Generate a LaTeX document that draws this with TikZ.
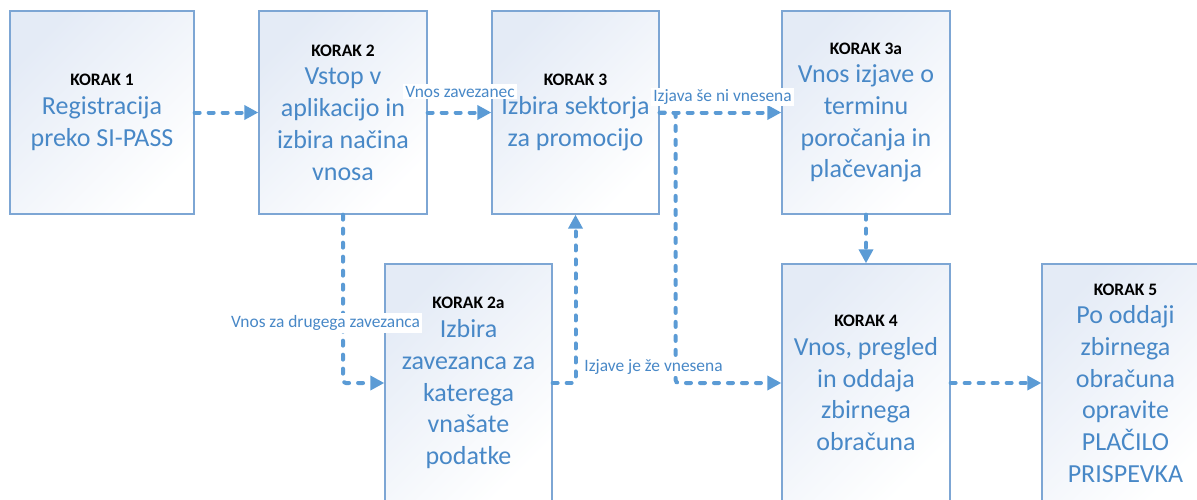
\documentclass[tikz,border=0pt]{standalone}
\usepackage{fontspec}
\setmainfont{Carlito}
\usetikzlibrary{arrows.meta}
\definecolor{textblue}{RGB}{72,136,199}
\definecolor{linkblue}{RGB}{91,155,213}
\definecolor{boxborder}{RGB}{125,166,212}
\definecolor{boxtint}{RGB}{228,235,246}
\newcommand\korakhead[1]{{\color{black}\bfseries\fontsize{17.5}{21}\selectfont #1}}
\begin{document}
\begin{tikzpicture}[x=1pt,y=-1pt,
 stepbox/.style={draw=boxborder, line width=1.3pt, top color=boxtint, bottom color=white, shading angle=45, inner sep=0pt, align=center, text=textblue, font=\fontsize{26}{31.7}\selectfont},
 toprow/.style={minimum height=203pt},
 botrow/.style={minimum height=238pt},
 link/.style={draw=linkblue, line width=4pt, dash pattern=on 5pt off 9pt, line cap=round, rounded corners=3pt, -{Triangle[length=14pt,width=14pt]}},
 lbl/.style={fill=white, text=textblue, font=\fontsize{17.4}{20}\selectfont, inner sep=2pt}]
\useasboundingbox (0,0) rectangle (1197,499);
\clip (0,0) rectangle (1197,499);

\node[stepbox, toprow, minimum width=184pt] (b1) at (102,112.5) {\korakhead{KORAK 1}\\[-3pt]Registracija\\preko SI-PASS};
\node[stepbox, toprow, minimum width=168pt] (b2) at (343,112.5) {\korakhead{KORAK 2}\\[-3pt]Vstop v\\aplikacijo in\\izbira načina\\vnosa};
\node[stepbox, toprow, minimum width=167pt] (b3) at (575.5,112.5) {\korakhead{KORAK 3}\\[-3pt]Izbira sektorja\\za promocijo};
\node[stepbox, toprow, minimum width=168pt] (b3a) at (866,112.5) {\korakhead{KORAK 3a}\\[-3pt]Vnos izjave o\\terminu\\poročanja in\\plačevanja};
\node[stepbox, botrow, minimum width=167pt] (b2a) at (468.5,383) {\korakhead{KORAK 2a}\\[-3pt]Izbira\\zavezanca za\\katerega\\vnašate\\podatke};
\node[stepbox, botrow, minimum width=168pt] (b4) at (866,383) {\korakhead{KORAK 4}\\[-3pt]Vnos, pregled\\in oddaja\\zbirnega\\obračuna};
\node[stepbox, botrow, minimum width=167pt] (b5) at (1125.5,383) {\korakhead{KORAK 5}\\[-3pt]Po oddaji\\zbirnega\\obračuna\\opravite\\PLAČILO\\PRISPEVKA};

\draw[link] (b1.east) -- (b2.west);
\draw[link] (b2.east) -- (b3.west);
\draw[link] (b3.east) -- (b3a.west);
\draw[link] (b3.east) -- ++(16,0) |- (b4.west);
\draw[link] (b2.south) |- (b2a.west);
\draw[link] (b2a.east) -| (b3.south);
\draw[link] (b3a.south) -- (b4.north);
\draw[link] (b4.east) -- (b5.west);

\node[lbl] (l1) at (460,91.5) {Vnos zavezanec};
\node[lbl] (l2) at (722.5,97) {Izjava še ni vnesena};
\node[lbl] (l3) at (325.5,323) {Vnos za drugega zavezanca};
\node[lbl] (l4) at (653.5,367) {Izjave je že vnesena};
\end{tikzpicture}
\end{document}
